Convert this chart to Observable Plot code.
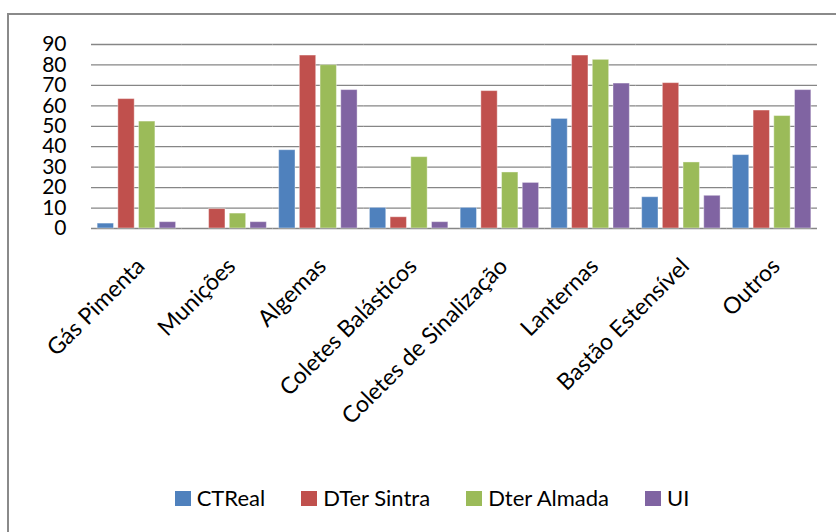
<!DOCTYPE html>
<html><head><meta charset="utf-8">
<script src="https://cdn.jsdelivr.net/npm/d3@7"></script>
<script src="https://cdn.jsdelivr.net/npm/@observablehq/plot@0.6"></script>
<style>
body{margin:0;background:#fff;font-family:Lato,"Noto Sans",sans-serif;width:836px;height:532px;overflow:hidden;position:relative;}
#frame{position:absolute;left:7px;top:13px;width:840px;height:530px;border-left:2px solid #8a8a8a;border-top:2px solid #8a8a8a;pointer-events:none;}
#legend{position:absolute;left:0;top:484px;width:864px;display:flex;justify-content:center;font-size:22px;color:#000;line-height:28px;}
.item{display:flex;align-items:center;margin:0 18px;}
.sw{width:16px;height:15px;margin-right:6px;}
</style></head>
<body>
<div id="chart"></div>
<div id="legend"></div>
<div id="frame"></div>
<script>
const categories = ["Gás Pimenta","Munições","Algemas","Coletes Balásticos","Coletes de Sinalização","Lanternas","Bastão Estensível","Outros"];
const series = ["CTReal","DTer Sintra","Dter Almada","UI"];
const colors = ["#4F81BD","#C0504D","#9BBB59","#8064A2"];
const ctreal     = [2.4, 0,   38.3, 10.1, 10.1, 53.6, 15.3, 35.9];
const dterSintra = [63.3, 9.5, 84.6, 5.5, 67.2, 84.6, 71.1, 57.7];
const dterAlmada = [52.3, 7.3, 79.9, 34.9, 27.4, 82.5, 32.3, 55.0];
const ui         = [3.1, 3.1, 67.7, 3.1, 22.3, 70.9, 16.0, 67.7];
const yTicks = [0,10,20,30,40,50,60,70,80,90];

const seriesValues = [ctreal, dterSintra, dterAlmada, ui];
const data = [];
categories.forEach((c, i) => series.forEach((s, j) => data.push({category: c, series: s, value: seriesValues[j][i]})));

const chart = Plot.plot({
  width: 836, height: 484,
  marginTop: 44, marginBottom: 256, marginLeft: 91, marginRight: 19,
  style: {fontFamily: "Lato, 'Noto Sans', sans-serif", fontSize: "21px", color: "#000", background: "transparent"},
  fx: {domain: categories, padding: 0, label: null, round: false},
  x: {domain: series, paddingInner: 0.21, paddingOuter: 0.297, axis: null, round: false},
  y: {domain: [0, 90], label: null},
  color: {domain: series, range: colors},
  marks: [
    Plot.gridY(yTicks, {stroke: "#868686", strokeOpacity: 1, strokeWidth: 1.3}),
    Plot.barY(data, {fx: "category", x: "series", y: "value", fill: "series", stroke: "#fff", strokeOpacity: 0.4, strokeWidth: 1}),
    Plot.axisY(yTicks, {tickSize: 0, tickPadding: 25, label: null, fontSize: 21}),
    Plot.axisFx({anchor: "bottom", tickRotate: -45, tickSize: 0, tickPadding: 34, dx: 4, label: null, fontSize: 23})
  ]
});
document.getElementById("chart").appendChild(chart);

const legend = document.getElementById("legend");
series.forEach((s, i) => {
  const it = document.createElement("div"); it.className = "item";
  const sw = document.createElement("span"); sw.className = "sw"; sw.style.background = colors[i];
  const t = document.createElement("span"); t.textContent = s;
  it.appendChild(sw); it.appendChild(t); legend.appendChild(it);
});
</script>
</body></html>
